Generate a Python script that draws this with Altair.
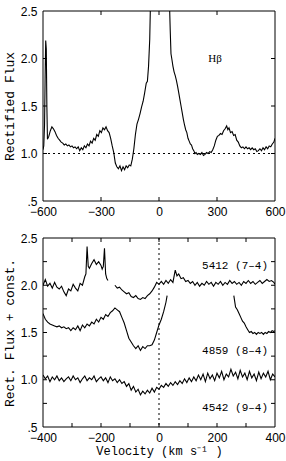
import altair as alt
import pandas as pd

# ---------------- data: top panel (H-beta) ----------------
hb_v = [-600, -596, -592, -589, -586, -583, -580, -577, -570, -562, -554, -546, -538, -530, -522, -514, -506, -498,
        -490, -482, -474, -466, -458, -450, -442, -434, -426, -418, -410, -402, -394, -386, -378, -370, -362, -354,
        -346, -338, -330, -322, -314, -306, -298, -290, -282, -274, -266, -258, -250, -242, -234, -226, -218, -210,
        -202, -194, -186, -178, -170, -162, -154, -146, -138, -130, -122, -114, -106, -98, -90, -82, -74, -66, -60,
        -54, -48, -44, -40, 0, 50, 54, 58, 62, 66, 72, 78, 84, 90, 96, 102, 108, 114, 120, 126, 132, 138, 144, 150,
        156, 162, 168, 174, 180, 186, 192, 198, 206, 214, 222, 230, 238, 246, 254, 262, 270, 278, 286, 294, 302,
        310, 318, 326, 334, 342, 350, 356, 362, 370, 378, 386, 394, 402, 410, 418, 426, 434, 442, 450, 458, 466,
        474, 482, 490, 498, 506, 514, 522, 530, 538, 546, 554, 562, 570, 578, 586, 594, 600]
hb_f = [1.04, 1.08, 1.30, 1.80, 2.19, 2.10, 1.50, 1.15, 1.18, 1.24, 1.28, 1.26, 1.23, 1.19, 1.16, 1.14, 1.12, 1.11,
        1.09, 1.10, 1.08, 1.09, 1.07, 1.08, 1.06, 1.07, 1.05, 1.07, 1.03, 1.06, 1.04, 1.08, 1.06, 1.10, 1.08, 1.13,
        1.11, 1.16, 1.14, 1.20, 1.18, 1.24, 1.22, 1.27, 1.25, 1.28, 1.24, 1.22, 1.16, 1.08, 1.01, 0.90, 0.86, 0.84,
        0.87, 0.82, 0.86, 0.83, 0.87, 0.85, 0.88, 0.87, 0.94, 1.05, 1.20, 1.31, 1.36, 1.42, 1.49, 1.55, 1.64, 1.74,
        1.76, 1.92, 2.20, 2.60, 3.20, 4.00, 3.20, 2.60, 2.30, 2.05, 2.00, 1.92, 1.86, 1.82, 1.77, 1.71, 1.64, 1.57,
        1.50, 1.43, 1.36, 1.30, 1.25, 1.22, 1.16, 1.13, 1.10, 1.09, 1.05, 1.03, 1.00, 1.01, 0.99, 1.00, 0.99, 1.01,
        0.98, 0.99, 1.01, 1.00, 1.02, 1.01, 1.04, 1.08, 1.14, 1.18, 1.19, 1.21, 1.20, 1.24, 1.26, 1.29, 1.25, 1.27,
        1.22, 1.23, 1.19, 1.20, 1.14, 1.12, 1.08, 1.06, 1.07, 1.05, 1.07, 1.05, 1.06, 1.04, 1.06, 1.04, 1.05, 1.02,
        1.03, 1.05, 1.03, 1.06, 1.04, 1.07, 1.05, 1.08, 1.07, 1.10, 1.12, 1.16]

# ---------------- data: bottom panel ----------------
s1a_v = [-400, -392, -384, -376, -368, -360, -352, -344, -336, -328, -320, -312, -304, -296, -288, -280, -272, -264,
         -256, -252, -248, -244, -240, -232, -224, -216, -208, -200, -196, -192, -188, -184, -180, -176]
s1a_f = [2.00, 2.06, 1.99, 2.02, 1.97, 2.03, 1.98, 1.96, 1.99, 1.93, 1.89, 1.96, 1.94, 2.01, 1.97, 1.94, 2.02, 2.00,
         2.09, 2.12, 2.41, 2.20, 2.18, 2.23, 2.27, 2.22, 2.25, 2.21, 2.17, 2.20, 2.39, 2.12, 2.07, 2.05]
s1b_v = [-152, -144, -136, -128, -120, -112, -104, -96, -88, -80, -72, -64, -56, -48, -40, -32, -24, -16, -8, 0, 8,
         16, 24, 32, 40, 48, 56, 62, 68, 76, 84, 92, 100, 108, 116, 124, 132, 140, 148, 156, 164, 172, 180, 188, 196,
         204, 212, 220, 228, 236, 244, 252, 260, 268, 276, 284, 292, 300, 308, 316, 324, 332, 340, 348, 356, 364,
         372, 380, 388, 396, 400]
s1b_f = [2.00, 1.97, 1.98, 1.95, 1.93, 1.91, 1.92, 1.88, 1.87, 1.89, 1.86, 1.85, 1.87, 1.86, 1.89, 1.91, 1.94, 1.98,
         2.03, 2.01, 2.04, 2.01, 2.05, 2.02, 2.06, 2.03, 2.16, 2.10, 2.12, 2.07, 2.08, 2.04, 2.05, 2.02, 2.04, 2.00,
         2.03, 1.99, 2.02, 2.00, 2.04, 2.01, 2.03, 1.99, 2.03, 2.01, 2.04, 2.00, 2.03, 2.01, 2.05, 2.02, 2.04, 2.01,
         2.03, 2.00, 2.04, 2.02, 2.05, 2.02, 2.04, 2.01, 2.03, 2.05, 2.02, 2.04, 2.06, 2.04, 2.05, 2.03, 2.01]

s2a_v = [-400, -392, -384, -376, -368, -360, -352, -344, -336, -328, -320, -312, -304, -296, -288, -280, -272, -264,
         -256, -248, -240, -232, -224, -216, -208, -200, -192, -184, -176, -168, -160, -152, -144, -136, -128, -120,
         -112, -104, -96, -88, -80, -72, -64, -56, -48, -40, -32, -24, -16, -8, 0, 8, 16, 24, 28]
s2a_f = [1.70, 1.64, 1.61, 1.59, 1.58, 1.57, 1.56, 1.57, 1.55, 1.56, 1.54, 1.55, 1.52, 1.55, 1.53, 1.57, 1.52, 1.58,
         1.55, 1.59, 1.57, 1.61, 1.59, 1.64, 1.61, 1.66, 1.64, 1.69, 1.67, 1.71, 1.73, 1.76, 1.74, 1.72, 1.66, 1.60,
         1.52, 1.44, 1.40, 1.36, 1.33, 1.36, 1.31, 1.35, 1.33, 1.36, 1.36, 1.37, 1.42, 1.50, 1.58, 1.64, 1.72, 1.82,
         1.89]
s2b_v = [258, 264, 270, 276, 282, 288, 294, 300, 306, 312, 318, 324, 330, 336, 342, 348, 354, 360, 366, 372, 378,
         384, 390, 396, 400]
s2b_f = [1.89, 1.77, 1.74, 1.70, 1.66, 1.62, 1.60, 1.56, 1.53, 1.50, 1.51, 1.49, 1.50, 1.48, 1.50, 1.49, 1.50, 1.48,
         1.50, 1.49, 1.51, 1.50, 1.52, 1.51, 1.52]

s3_v = list(range(-400, 401, 8))
s3_f = [1.05, 1.01, 1.04, 0.98, 1.03, 1.00, 1.04, 0.99, 1.02, 0.98, 1.01, 1.03, 0.99, 1.04, 1.00, 1.02, 0.97, 1.01,
        1.04, 0.99, 1.02, 1.00, 1.04, 0.98, 1.01, 1.03, 0.99, 1.02, 0.97, 1.03, 0.99, 1.01, 0.97, 1.00, 0.96, 0.98,
        0.93, 0.96, 0.89, 0.93, 0.87, 0.90, 0.84, 0.88, 0.85, 0.89, 0.86, 0.91, 0.87, 0.92, 0.90, 0.94, 0.92, 0.96,
        0.93, 0.97, 0.94, 0.98, 0.95, 0.99, 0.96, 1.01, 0.97, 1.02, 0.98, 1.03, 0.99, 1.05, 1.00, 1.06, 0.98, 1.07,
        1.01, 1.05, 0.99, 1.07, 1.02, 1.09, 1.00, 1.06, 1.03, 1.11, 1.04, 1.08, 1.01, 1.10, 1.03, 1.07, 1.00, 1.09,
        1.02, 1.06, 0.99, 1.08, 1.01, 1.07, 1.03, 1.09, 1.00, 1.06, 1.03]

top_label = ["Hβ"]
top_label_v = [290]
top_label_f = [2.0]

bot_labels = ["5412 (7–4)", "4859 (8–4)", "4542 (9–4)"]
bot_label_v = [376, 376, 376]
bot_label_f = [2.2, 1.3, 0.7]

top_xlabels = [-600, -300, 0, 300, 600]
top_xticks = [-300, 0, 300]
top_yticks = [1.0, 1.5, 2.0]
bot_xlabels = [-400, -200, 0, 200, 400]
bot_xticks = [-300, -200, -100, 0, 100, 200, 300]
bot_yticks = [0.75, 1.0, 1.25, 1.5, 1.75, 2.0, 2.25]
ylabels = [0.5, 1.0, 1.5, 2.0, 2.5]

W, H1, H2 = 232, 190, 189
MONO = "Liberation Mono"
SANS = "Liberation Sans"


def seg(v, f, name):
    return pd.DataFrame({"v": v, "f": f, "s": name})


def ylab_expr():
    return "datum.value == 0.5 ? '.5' : format(datum.value, '.1f')"


def frame_and_ticks(xs, ys, h, xscale, yscale, tl=4):
    dx = pd.DataFrame({"v": xs})
    dy = pd.DataFrame({"f": ys})
    frame = alt.Chart(pd.DataFrame({"k": [0]})).mark_rect(
        fill=None, stroke="black", strokeWidth=1).encode(
        x=alt.value(0), x2=alt.value(W), y=alt.value(0), y2=alt.value(h))
    xb = alt.Chart(dx).mark_rule(color="black", strokeWidth=1).encode(
        x=alt.X("v:Q", scale=xscale), y=alt.value(h), y2=alt.value(h - tl))
    xt = alt.Chart(dx).mark_rule(color="black", strokeWidth=1).encode(
        x=alt.X("v:Q", scale=xscale), y=alt.value(0), y2=alt.value(tl))
    yl = alt.Chart(dy).mark_rule(color="black", strokeWidth=1).encode(
        y=alt.Y("f:Q", scale=yscale), x=alt.value(0), x2=alt.value(tl))
    yr = alt.Chart(dy).mark_rule(color="black", strokeWidth=1).encode(
        y=alt.Y("f:Q", scale=yscale), x=alt.value(W), x2=alt.value(W - tl))
    return [frame, xb, xt, yl, yr]


# ---------- top panel ----------
xs1 = alt.Scale(domain=[-600, 600], nice=False, zero=False)
ys = alt.Scale(domain=[0.5, 2.5], nice=False, zero=False)

top_df = seg(hb_v, hb_f, "hb")
top_line = alt.Chart(top_df).mark_line(color="black", strokeWidth=1.1, clip=True).encode(
    x=alt.X("v:Q", scale=xs1,
            axis=alt.Axis(values=top_xlabels, title=None, ticks=False, domain=False, grid=False,
                          labelFlush=False, labelFont=SANS, labelFontSize=12, labelColor="black",
                          labelPadding=5)),
    y=alt.Y("f:Q", scale=ys,
            axis=alt.Axis(values=ylabels, title="Rectified Flux", ticks=False, domain=False, grid=False,
                          labelExpr=ylab_expr(), labelFont=SANS, labelFontSize=12, labelColor="black",
                          labelPadding=6, titleFont=MONO, titleFontSize=13, titleFontWeight="normal",
                          titleColor="black", titlePadding=4)),
    detail="s:N", order="v:Q")

top_dot = alt.Chart(pd.DataFrame({"f": [1.0]})).mark_rule(
    color="black", strokeDash=[2, 3], strokeWidth=1).encode(y=alt.Y("f:Q", scale=ys))

top_text = alt.Chart(pd.DataFrame({"v": top_label_v, "f": top_label_f, "t": top_label})).mark_text(
    font="Liberation Serif", fontSize=11, color="black").encode(
    x=alt.X("v:Q", scale=xs1), y=alt.Y("f:Q", scale=ys), text="t:N")

top = alt.layer(top_line, top_dot, top_text,
                *frame_and_ticks(top_xticks, top_yticks, H1, xs1, ys)).properties(width=W, height=H1)

# ---------- bottom panel ----------
xs2 = alt.Scale(domain=[-400, 400], nice=False, zero=False)
bot_df = pd.concat([seg(s1a_v, s1a_f, "s1a"), seg(s1b_v, s1b_f, "s1b"),
                    seg(s2a_v, s2a_f, "s2a"), seg(s2b_v, s2b_f, "s2b"),
                    seg(s3_v, s3_f, "s3")], ignore_index=True)

bot_line = alt.Chart(bot_df).mark_line(color="black", strokeWidth=1.1, clip=True).encode(
    x=alt.X("v:Q", scale=xs2,
            axis=alt.Axis(values=bot_xlabels, title="Velocity (km s⁻¹ )", ticks=False, domain=False,
                          grid=False, labelFlush=False, labelFont=SANS, labelFontSize=12, labelColor="black",
                          labelPadding=5, titleFont=MONO, titleFontSize=12, titleFontWeight="normal",
                          titleColor="black", titlePadding=2)),
    y=alt.Y("f:Q", scale=ys,
            axis=alt.Axis(values=ylabels, title="Rect. Flux + const.", ticks=False, domain=False, grid=False,
                          labelExpr=ylab_expr(), labelFont=SANS, labelFontSize=12, labelColor="black",
                          labelPadding=6, titleFont=MONO, titleFontSize=13, titleFontWeight="normal",
                          titleColor="black", titlePadding=4)),
    detail="s:N", order="v:Q")

bot_dot = alt.Chart(pd.DataFrame({"v": [0]})).mark_rule(
    color="black", strokeDash=[2, 3], strokeWidth=1).encode(x=alt.X("v:Q", scale=xs2))

bot_text = alt.Chart(pd.DataFrame({"v": bot_label_v, "f": bot_label_f, "t": bot_labels})).mark_text(
    font=MONO, fontSize=11, color="black", align="right").encode(
    x=alt.X("v:Q", scale=xs2), y=alt.Y("f:Q", scale=ys), text="t:N")

bottom = alt.layer(bot_line, bot_dot, bot_text,
                   *frame_and_ticks(bot_xticks, bot_yticks, H2, xs2, ys)).properties(width=W, height=H2)

chart = alt.vconcat(top, bottom, spacing=15).properties(
    padding={"left": 3, "top": 5, "right": 0, "bottom": 6}
).configure(background="white").configure_view(stroke=None)

chart.save("out.html", embed_options={"renderer": "svg", "actions": False})
